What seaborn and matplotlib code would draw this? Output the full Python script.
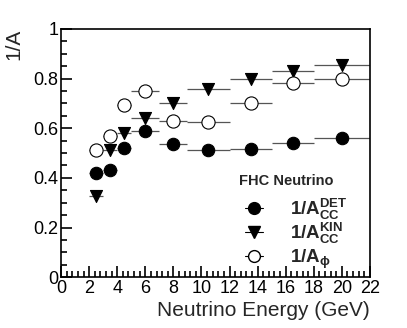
import numpy as np
import pandas as pd
import seaborn as sns
import matplotlib.pyplot as plt
from matplotlib.ticker import MultipleLocator

# energy bins (GeV)
bin_lo = [2, 3, 4, 5, 7, 9, 12, 15, 18]
bin_hi = [3, 4, 5, 7, 9, 12, 15, 18, 22]
energy = [2.5, 3.5, 4.5, 6, 8, 10.5, 13.5, 16.5, 20]

# 1/A values
inv_a_det = [0.42, 0.433, 0.519, 0.587, 0.537, 0.512, 0.516, 0.541, 0.559]
inv_a_kin = [0.325, 0.511, 0.579, 0.643, 0.703, 0.756, 0.799, 0.829, 0.855]
inv_a_phi = [0.513, 0.569, 0.692, 0.748, 0.628, 0.623, 0.701, 0.783, 0.799]

sns.set_theme(style="ticks")
plt.rcParams['font.family'] = ['Liberation Sans', 'DejaVu Sans']
plt.rcParams['mathtext.fontset'] = 'custom'
plt.rcParams['mathtext.rm'] = 'Liberation Sans'
plt.rcParams['mathtext.bf'] = 'Liberation Sans:bold'
plt.rcParams['mathtext.it'] = 'Liberation Sans:italic'

df = pd.DataFrame({"energy": energy, "lo": bin_lo, "hi": bin_hi,
                   "det": inv_a_det, "kin": inv_a_kin, "phi": inv_a_phi})

fig = plt.figure(figsize=(4.07, 3.28), dpi=100)
ax = fig.add_axes([0.150, 0.155, 0.759, 0.757])

# horizontal bin-width bars
for col in ["det", "kin", "phi"]:
    ax.hlines(df[col], df["lo"], df["hi"], color="#555555", linewidth=0.9, zorder=1)

sns.scatterplot(data=df, x="energy", y="det", marker="o", s=80, color="black",
                edgecolor="black", linewidth=0.8, ax=ax, zorder=3)
sns.scatterplot(data=df, x="energy", y="kin", marker="v", s=75, color="black",
                edgecolor="black", linewidth=0.8, ax=ax, zorder=3)
sns.scatterplot(data=df, x="energy", y="phi", marker="o", s=90, facecolor="white",
                edgecolor="black", linewidth=0.8, ax=ax, zorder=3)

ax.set_xlim(0, 22)
ax.set_ylim(0, 1)
ax.xaxis.set_major_locator(MultipleLocator(2))
ax.xaxis.set_minor_locator(MultipleLocator(0.4))
ax.yaxis.set_major_locator(MultipleLocator(0.2))
ax.yaxis.set_minor_locator(MultipleLocator(0.05))
ax.set_yticks([0, 0.2, 0.4, 0.6, 0.8, 1])
ax.set_yticklabels(["0", "0.2", "0.4", "0.6", "0.8", "1"])
ax.tick_params(which="both", direction="in", top=False, right=False,
               labelsize=13, width=1.2, pad=2, colors="black")
ax.tick_params(which="major", length=8)
ax.tick_params(which="minor", length=4)
for s in ax.spines.values():
    s.set_linewidth(1.2)
    s.set_color("black")

ax.set_xlabel("Neutrino Energy (GeV)", fontsize=15, loc="right", labelpad=3)
ax.set_ylabel("1/A", fontsize=15, loc="top")
ax.yaxis.set_label_coords(-0.123, 1.0)

# legend, laid out by hand in axes coordinates (ROOT style)
ax.text(0.728, 0.388, "FHC Neutrino", transform=ax.transAxes, fontsize=10.5,
        fontweight="bold", ha="center", va="center")
leg_markers = [("o", "black"), ("v", "black"), ("o", "white")]
leg_labels = [r"$\mathbf{1/A_{CC}^{DET}}$", r"$\mathbf{1/A_{CC}^{KIN}}$",
              r"$\mathbf{1/A_{\phi}}$"]
leg_rows = [0.278, 0.181, 0.085]
for (m, fc), lab, yy in zip(leg_markers, leg_labels, leg_rows):
    ax.plot([0.597, 0.653], [yy, yy], color="black", linewidth=0.8,
            transform=ax.transAxes, zorder=4)
    ax.plot([0.625], [yy], marker=m, markersize=8.5, markerfacecolor=fc,
            markeredgecolor="black", linestyle="none", transform=ax.transAxes, zorder=5)
    ax.text(0.741, yy - 0.027, lab, transform=ax.transAxes, fontsize=13.5,
            ha="left", va="baseline")

fig.savefig("out.png", dpi=100)
